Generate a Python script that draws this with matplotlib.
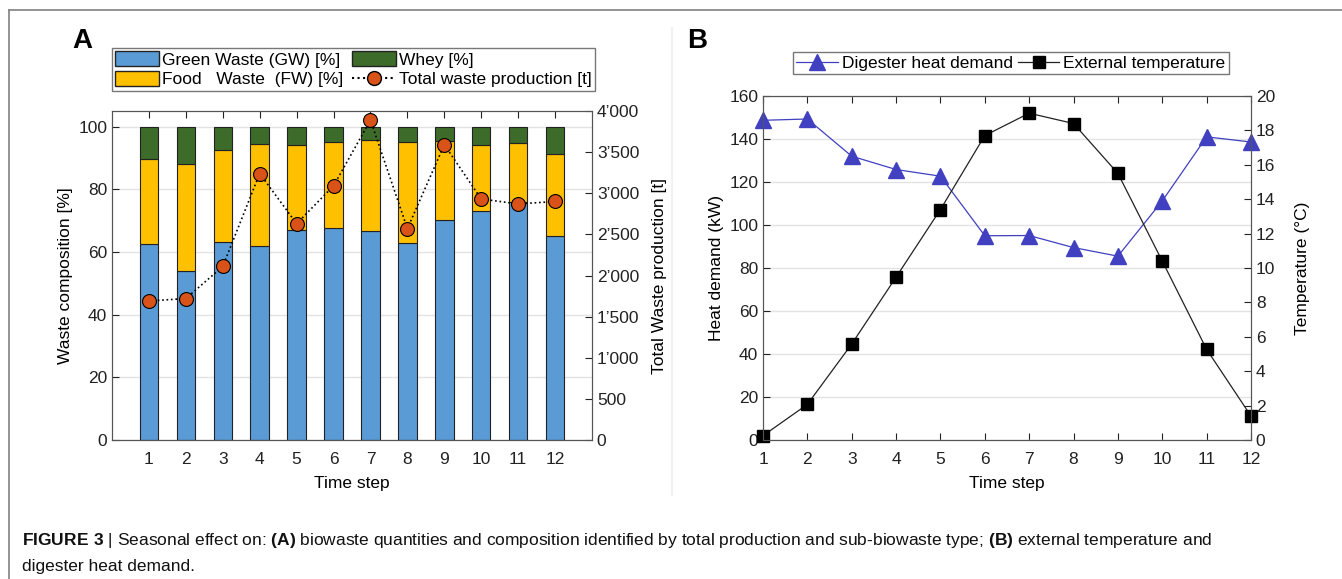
import numpy as np
import matplotlib.pyplot as plt
from matplotlib.lines import Line2D
from matplotlib.patches import Patch

plt.rcParams['font.family'] = ['Liberation Sans', 'DejaVu Sans']
plt.rcParams['mathtext.fontset'] = 'custom'
plt.rcParams['mathtext.rm'] = 'Liberation Sans'
plt.rcParams['mathtext.bf'] = 'Liberation Sans:bold'

# Panel A data
steps = np.arange(1, 13)
green_waste = [62.4, 54.0, 63.1, 62.0, 66.9, 67.7, 66.6, 63.0, 70.1, 73.1, 76.1, 65.1]
food_waste = [27.3, 34.2, 29.3, 32.6, 27.4, 27.3, 29.0, 32.0, 25.4, 20.9, 18.7, 26.3]
whey = [10.3, 11.8, 7.6, 5.4, 5.7, 5.0, 4.4, 5.0, 4.5, 6.0, 5.2, 8.6]
total_waste = [1690, 1720, 2110, 3240, 2630, 3090, 3890, 2570, 3590, 2930, 2870, 2900]
waste_ticks = [0, 500, 1000, 1500, 2000, 2500, 3000, 3500, 4000]
waste_ticklabels = ['0', '500', '1\u2019000', '1\u2019500', '2\u2019000',
                    '2\u2019500', '3\u2019000', '3\u2019500', '4\u2019000']

# Panel B data
heat_demand = [148.7, 149.3, 132.0, 125.8, 122.7, 95.0, 95.1, 89.5, 85.5, 111.2, 141.0, 138.6]
ext_temp = [0.25, 2.07, 5.58, 9.47, 13.4, 17.7, 19.0, 18.4, 15.5, 10.4, 5.27, 1.39]

W, H = 1342, 579
fs = 12.5
c_gw = '#5b9bd5'
c_fw = '#ffc000'
c_wh = '#3d6b2a'
c_tot = '#d95319'
c_heat = '#4040c0'
grid_c = '#e3e3e3'
spine_c = '#555555'


def rect(l, t, r, b):
    return [l / W, 1 - b / H, (r - l) / W, (b - t) / H]


fig = plt.figure(figsize=(W / 100, H / 100), dpi=100)

# ---------- Panel A ----------
ax = fig.add_axes(rect(112, 111, 592, 440))
ax.bar(steps, green_waste, 0.5, color=c_gw, edgecolor='#222222', lw=0.8)
ax.bar(steps, food_waste, 0.5, bottom=green_waste, color=c_fw, edgecolor='#222222', lw=0.8)
fw_top = np.array(green_waste) + np.array(food_waste)
ax.bar(steps, whey, 0.5, bottom=fw_top, color=c_wh, edgecolor='#222222', lw=0.8)
ax.set_xlim(0, 13)
ax.set_ylim(0, 105)
ax.set_xticks(steps)
ax.set_yticks(range(0, 101, 20))
ax.grid(axis='y', color=grid_c, lw=1)
ax.set_axisbelow(True)
ax.tick_params(direction='in', labelsize=fs, length=5, top=True, right=False, colors='#222222')
ax.tick_params(axis='x', pad=9)
ax.set_ylabel('Waste composition [%]', fontsize=fs)
ax.set_xlabel('Time step', fontsize=fs, labelpad=6)

ax2 = ax.twinx()
ax2.plot(steps, total_waste, ':', color='k', lw=1.2, marker='o', ms=10,
         mfc=c_tot, mec='k', mew=0.8)
ax2.set_ylim(0, 4000)
ax2.set_yticks(waste_ticks)
ax2.set_yticklabels(waste_ticklabels)
ax2.tick_params(direction='in', labelsize=fs, length=5, colors='#222222')
ax2.set_ylabel('Total Waste production [t]', fontsize=fs, labelpad=9)
for a in (ax, ax2):
    for s in a.spines.values():
        s.set_color(spine_c)

hA = [Patch(facecolor=c_gw, edgecolor='#222222'), Patch(facecolor=c_fw, edgecolor='#222222'),
      Patch(facecolor=c_wh, edgecolor='#222222'),
      Line2D([], [], ls=':', color='k', marker='o', ms=10, mfc=c_tot, mec='k')]
lA = ['Green Waste (GW) [%]', 'Food   Waste  (FW) [%]', 'Whey [%]', 'Total waste production [t]']
legA = fig.legend(hA, lA, ncol=2, loc='upper left', bbox_to_anchor=(112 / W, 1 - 48 / H),
                  fontsize=fs, frameon=True, fancybox=False, edgecolor=spine_c,
                  borderpad=0.2, labelspacing=0.2, handlelength=2.5, handleheight=0.9,
                  handletextpad=0.2, columnspacing=0.5, borderaxespad=0)
legA.get_frame().set_linewidth(1.0)

fig.text(72 / W, 1 - 41 / H, 'A', fontsize=20, fontweight='bold', va='center')

# ---------- Panel B ----------
bx = fig.add_axes(rect(763, 96, 1251, 440))
bx.plot(steps, heat_demand, '-', color=c_heat, lw=0.9, marker='^', ms=11,
        mfc=c_heat, mec=c_heat, clip_on=False, zorder=3)
bx.set_xlim(1, 12)
bx.set_ylim(0, 160)
bx.set_xticks(steps)
bx.set_yticks(range(0, 161, 20))
bx.grid(axis='y', color=grid_c, lw=1)
bx.set_axisbelow(True)
bx.tick_params(direction='in', labelsize=fs, length=5, top=True, right=False, colors='#222222')
bx.tick_params(axis='x', pad=9)
bx.set_ylabel('Heat demand (kW)', fontsize=fs)
bx.set_xlabel('Time step', fontsize=fs, labelpad=6)

bx2 = bx.twinx()
bx2.plot(steps, ext_temp, '-', color='#222222', lw=0.9, marker='s', ms=9,
         mfc='k', mec='k', clip_on=False)
bx2.set_ylim(0, 20)
bx2.set_yticks(range(0, 21, 2))
bx2.tick_params(direction='in', labelsize=fs, length=5, colors='#222222')
bx2.set_ylabel('Temperature (\u00b0C)', fontsize=fs, labelpad=14)
for a in (bx, bx2):
    for s in a.spines.values():
        s.set_color(spine_c)

hB = [Line2D([], [], color=c_heat, lw=0.9, marker='^', ms=11, mfc=c_heat, mec=c_heat),
      Line2D([], [], color='#222222', lw=0.9, marker='s', ms=9, mfc='k', mec='k')]
lB = ['Digester heat demand', 'External temperature']
legB = fig.legend(hB, lB, ncol=2, loc='upper left', bbox_to_anchor=(793 / W, 1 - 52 / H),
                  fontsize=fs, frameon=True, fancybox=False, edgecolor=spine_c,
                  borderpad=0.2, handlelength=2.4, handletextpad=0.2,
                  columnspacing=0.3, borderaxespad=0)
legB.get_frame().set_linewidth(1.0)

fig.text(687 / W, 1 - 41 / H, 'B', fontsize=20, fontweight='bold', va='center')

# ---------- frame, separator, caption ----------
fig.add_artist(Line2D([9 / W, 9 / W], [0, 1 - 10 / H], transform=fig.transFigure,
                      color='#808080', lw=1.2))
fig.add_artist(Line2D([9 / W, 1], [1 - 10 / H, 1 - 10 / H], transform=fig.transFigure,
                      color='#808080', lw=1.2))
fig.add_artist(Line2D([672 / W, 672 / W], [1 - 495 / H, 1 - 28 / H], transform=fig.transFigure,
                      color='#f2f2f2', lw=1.5))

cap1 = (r'$\mathbf{FIGURE\ 3}$ | Seasonal effect on: $\mathbf{(A)}$ biowaste quantities and '
        r'composition identified by total production and sub-biowaste type; $\mathbf{(B)}$ '
        r'external temperature and')
fig.text(22 / W, 1 - 540 / H, cap1, fontsize=12.5, va='center', color='#111111')
fig.text(22 / W, 1 - 567 / H, 'digester heat demand.', fontsize=12.5, va='center', color='#111111')

fig.savefig('out.png', dpi=100)
